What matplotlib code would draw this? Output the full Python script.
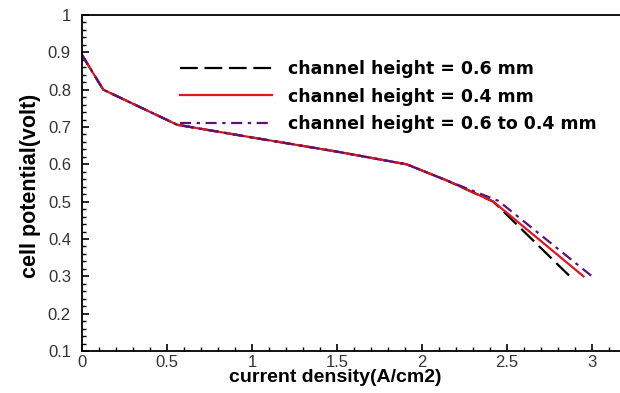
import numpy as np
import matplotlib
matplotlib.use("Agg")
from matplotlib import pyplot as plt
from matplotlib.ticker import MultipleLocator

# polarization curves
x_06 = [0.0, 0.125, 0.56, 1.0, 1.5, 1.91, 2.15, 2.42, 2.87]
y_06 = [0.893, 0.80, 0.706, 0.672, 0.634, 0.600, 0.556, 0.500, 0.300]

x_04 = [0.0, 0.125, 0.56, 1.0, 1.5, 1.91, 2.15, 2.42, 2.95]
y_04 = [0.893, 0.80, 0.706, 0.672, 0.634, 0.600, 0.556, 0.500, 0.300]

x_taper = [0.0, 0.125, 0.56, 1.0, 1.5, 1.91, 2.15, 2.45, 3.0]
y_taper = [0.893, 0.80, 0.706, 0.672, 0.634, 0.600, 0.556, 0.502, 0.300]

labels = ["channel height = 0.6 mm",
          "channel height = 0.4 mm",
          "channel height = 0.6 to 0.4 mm"]

xticks = [0, 0.5, 1, 1.5, 2, 2.5, 3]
xtick_labels = ["0", "0.5", "1", "1.5", "2", "2.5", "3"]
yticks = [0.1, 0.2, 0.3, 0.4, 0.5, 0.6, 0.7, 0.8, 0.9, 1.0]
ytick_labels = ["0.1", "0.2", "0.3", "0.4", "0.5", "0.6", "0.7", "0.8", "0.9", "1"]

plt.rcParams["font.family"] = ["Liberation Sans", "DejaVu Sans"]

fig = plt.figure(figsize=(6.2, 3.93), dpi=100)
ax = fig.add_axes([82 / 620, 42 / 393, 538 / 620, 336 / 393])

ax.plot(x_06, y_06, color="black", lw=1.6, linestyle=(0, (8, 3)), label=labels[0])
ax.plot(x_04, y_04, color="#e8141c", lw=1.6, label=labels[1])
ax.plot(x_taper, y_taper, color="#5a1478", lw=1.6,
        linestyle=(0, (5, 2.5, 1.5, 2.5)), label=labels[2])

ax.set_xlim(0, 538 / 170)
ax.set_ylim(0.1, 1.0)
ax.xaxis.set_minor_locator(MultipleLocator(0.1))
ax.yaxis.set_minor_locator(MultipleLocator(0.02))
ax.set_xticks(xticks)
ax.set_xticklabels(xtick_labels)
ax.set_yticks(yticks)
ax.set_yticklabels(ytick_labels)

ax.tick_params(which="major", direction="in", length=5, width=1.2, labelsize=12,
               labelcolor="#333333", color="black")
ax.tick_params(axis="x", which="major", pad=3)
ax.tick_params(axis="y", which="major", pad=8)
ax.tick_params(which="minor", direction="in", length=3, width=1.0)
ax.spines["right"].set_visible(False)
for s in ["left", "bottom", "top"]:
    ax.spines[s].set_linewidth(1.3)

ax.set_xlabel("current density(A/cm2)", fontsize=14, fontweight="bold")
ax.xaxis.set_label_coords((335 - 82) / 538, (351 - 369) / 336)
ax.set_ylabel("cell potential(volt)", fontsize=15.5, fontweight="bold")
ax.yaxis.set_label_coords((41 - 82) / 538, 0.49)

ax.legend(loc="upper left", bbox_to_anchor=(180 / 620, (393 - 60) / 393),
          bbox_transform=fig.transFigure, frameon=False,
          prop={"family": "DejaVu Sans", "weight": "bold", "size": 12.5},
          handlelength=5.3, handletextpad=0.9, labelspacing=0.55,
          borderpad=0, borderaxespad=0)

fig.savefig("out.png", dpi=100)
